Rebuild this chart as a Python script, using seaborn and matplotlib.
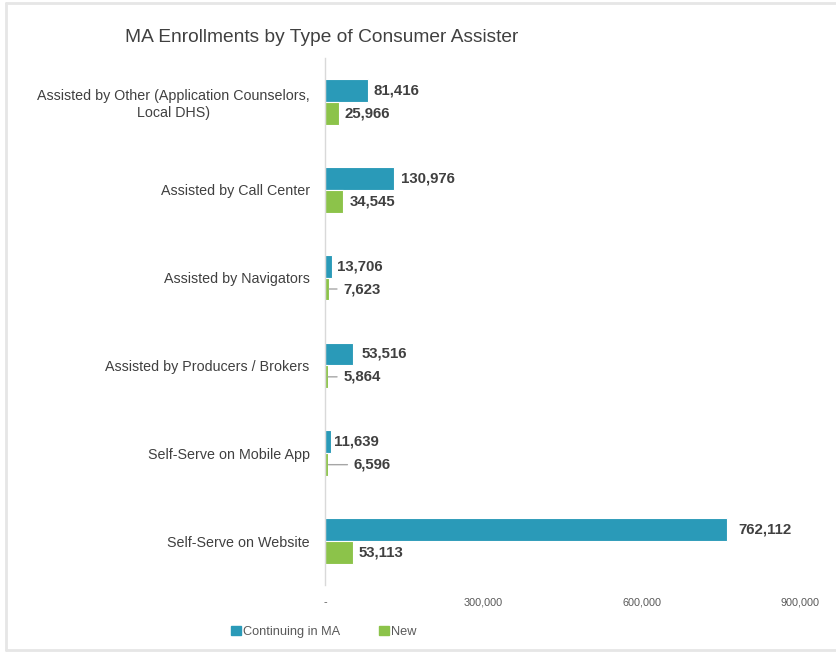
import matplotlib
matplotlib.use("Agg")
import matplotlib.pyplot as plt
from matplotlib.patches import Rectangle
from matplotlib.lines import Line2D
import seaborn as sns
import pandas as pd

categories = [
    "Assisted by Other (Application Counselors,\nLocal DHS)",
    "Assisted by Call Center",
    "Assisted by Navigators",
    "Assisted by Producers / Brokers",
    "Self-Serve on Mobile App",
    "Self-Serve on Website",
]
continuing = [81416, 130976, 13706, 53516, 11639, 762112]
new = [25966, 34545, 7623, 5864, 6596, 53113]
series_names = ["Continuing in MA", "New"]
x_ticks = [0, 300000, 600000, 900000]
x_tick_labels = ["-", "300,000", "600,000", "900,000"]

colors = ["#2A9AB8", "#8CC34A"]
text_dark = "#404040"
text_gray = "#595959"

df = pd.DataFrame({
    "category": categories * 2,
    "series": [series_names[0]] * len(categories) + [series_names[1]] * len(categories),
    "value": continuing + new,
})

sns.set_theme(style="white")
plt.rcParams["font.family"] = ["Liberation Sans", "DejaVu Sans"]

fig = plt.figure(figsize=(8.36, 6.52), dpi=100)
ax = fig.add_axes([325 / 836, 1 - 585 / 652, 475 / 836, 527 / 652])

sns.barplot(
    data=df, y="category", x="value", hue="series", order=categories,
    hue_order=series_names, palette=colors, saturation=1, orient="h", width=0.52,
    edgecolor="white", linewidth=0.8, legend=False, ax=ax,
)

ax.set_xlim(0, 900000)
ax.set_xticks(x_ticks)
ax.set_xticklabels(x_tick_labels, fontsize=7.8, color=text_gray)
ax.tick_params(axis="x", length=0, pad=9)
ax.tick_params(axis="y", length=0, pad=11)
for lbl in ax.get_yticklabels():
    lbl.set_fontsize(10.3)
    lbl.set_color(text_dark)
    lbl.set_horizontalalignment("right")
    lbl.set_multialignment("center")
ax.set_xlabel("")
ax.set_ylabel("")
for side in ["top", "right", "bottom"]:
    ax.spines[side].set_visible(False)
ax.spines["left"].set_color("#D9D9D9")
ax.spines["left"].set_linewidth(1.0)
ax.grid(False)

# value labels: pixel offset from the bar end; leader lines for thin New bars
label_offsets = {0: [6, 7, 5, 8, 3, 11], 1: [6, 6, 14, 15, 25, 6]}
for si, container in enumerate(ax.containers):
    vals = continuing if si == 0 else new
    for ci, (bar, v) in enumerate(zip(container, vals)):
        yc = bar.get_y() + bar.get_height() / 2
        off = label_offsets[si][ci]
        leader = si == 1 and v < 10000
        ax.annotate(
            f"{v:,}", xy=(v, yc), xytext=(off, 0), textcoords="offset pixels",
            ha="left", va="center", fontsize=10.8, fontweight="bold",
            color=text_dark,
            arrowprops=dict(arrowstyle="-", color="#A6A6A6", lw=1.0,
                            shrinkA=2, shrinkB=0) if leader else None,
            annotation_clip=False,
        )

fig.text(125 / 836, 1 - 38 / 652, "MA Enrollments by Type of Consumer Assister",
         fontsize=13.8, color=text_dark, ha="left", va="center")

handles = [Rectangle((0, 0), 1, 1, color=c) for c in colors]
fig.legend(handles, series_names, loc="center left", bbox_to_anchor=(231 / 836, 1 - 632 / 652),
           ncol=2, frameon=False, fontsize=9.2, labelcolor=text_gray,
           handlelength=0.75, handleheight=0.75, handletextpad=0.15, columnspacing=3.1,
           borderpad=0, borderaxespad=0)

# light frame lines along the top, left and bottom edges
frame_kw = dict(transform=fig.transFigure, color="#E6E6E6", linewidth=2.0)
fig.lines.append(Line2D([6 / 836, 1], [1 - 2.5 / 652, 1 - 2.5 / 652], **frame_kw))
fig.lines.append(Line2D([6 / 836, 6 / 836], [1 - 2.5 / 652, 2 / 652], **frame_kw))
fig.lines.append(Line2D([6 / 836, 1], [2 / 652, 2 / 652], **frame_kw))

fig.savefig("out.png", dpi=100, facecolor="white")
